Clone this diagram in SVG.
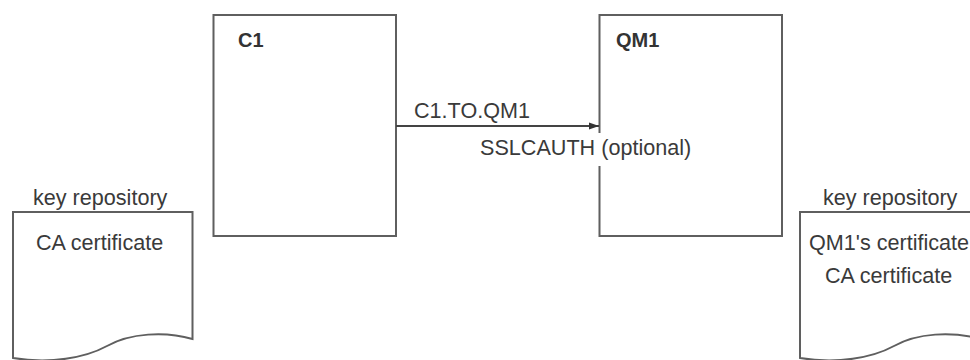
<svg xmlns="http://www.w3.org/2000/svg" width="970" height="360" viewBox="0 0 970 360">
<defs>
<style>
.box{fill:#fff;stroke:#5f5f5f;stroke-width:2}
.lbl{font-family:"Liberation Sans",Arial,sans-serif;font-size:21.6px;fill:#3a3a3a}
.bold{font-family:"Liberation Sans",Arial,sans-serif;font-size:20px;font-weight:bold;fill:#333}
.conn{stroke:#444;stroke-width:1.8;fill:none}
</style>
<marker id="arr" markerWidth="10" markerHeight="8" refX="10" refY="4" orient="auto" markerUnits="userSpaceOnUse">
<path d="M0,0.5 L10,4 L0,7.5 Z" fill="#333"/>
</marker>
</defs>
<rect width="970" height="360" fill="#fff"/>
<g id="C1">
<rect class="box" x="213.5" y="15" width="182.5" height="221"/>
<text class="bold" x="238" y="47">C1</text>
</g>
<g id="QM1">
<rect class="box" x="599.5" y="15" width="182.5" height="221"/>
<text class="bold" x="616" y="47">QM1</text>
</g>
<g id="keyrepo-left">
<text class="lbl" x="33" y="205">key repository</text>
<path class="box" d="M13,212 H192.5 V339 C165,331 130,333 107,346 C85,358 50,364 13,358 Z"/>
<text class="lbl" x="36" y="250">CA certificate</text>
</g>
<g id="keyrepo-right">
<text class="lbl" x="823" y="205">key repository</text>
<path class="box" d="M800,212 H980 V339 C952,331 917,333 894,346 C872,358 837,364 800,358 Z"/>
<text class="lbl" x="809" y="250">QM1's certificate</text>
<text class="lbl" x="825" y="283">CA certificate</text>
</g>
<g id="connectors">
<line class="conn" x1="396" y1="126" x2="599" y2="126" marker-end="url(#arr)"/>
<text class="lbl" x="414" y="118">C1.TO.QM1</text>
<rect x="478" y="133" width="218" height="33" fill="#fff"/>
<text class="lbl" x="480" y="155">SSLCAUTH (optional)</text>
</g>
</svg>
